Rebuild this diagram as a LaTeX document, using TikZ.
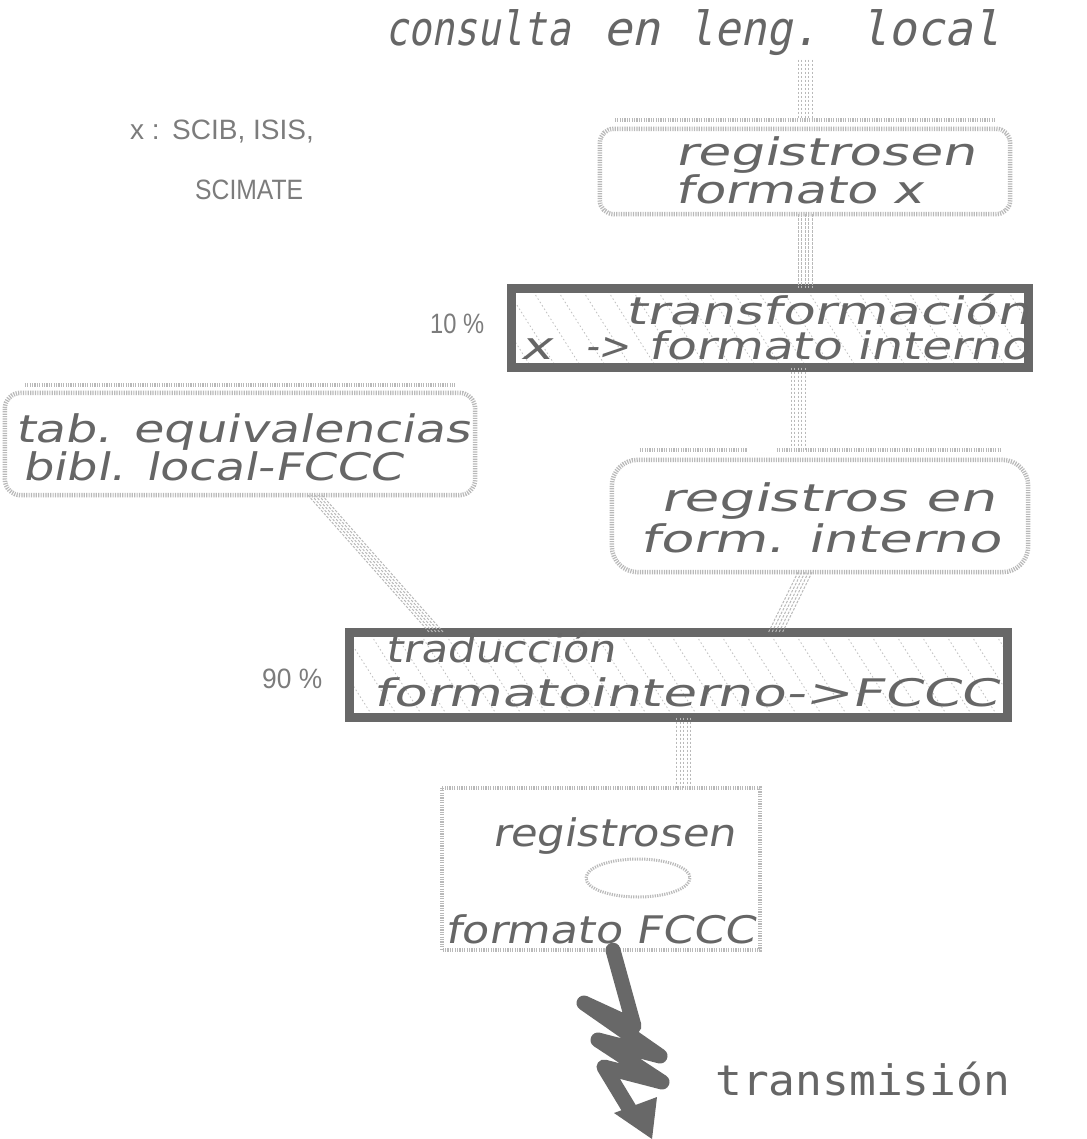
\documentclass[tikz,border=0pt]{standalone}
\usepackage{fontspec}
\usepackage{graphicx}
\usetikzlibrary{calc}
\setmainfont{DejaVu Sans}
\newfontface\slantfont[FakeStretch=1.4,FakeSlant=0.22]{DejaVu Sans}
\newfontface\titlefnt[FakeSlant=0.22]{DejaVu Sans Mono}
\newfontface\lblfnt{Liberation Sans}
\newfontface\monofnt{DejaVu Sans Mono}
\definecolor{ink}{HTML}{666666}
\definecolor{frame}{HTML}{686868}
\definecolor{lblc}{HTML}{7C7C7C}
\newlength\fitlen
\newcommand\fitto[2]{\settowidth\fitlen{#2}\pgfmathsetmacro\fitfac{#1/\fitlen}\scalebox{\fitfac}[1]{#2}}
\newcommand\band[2]{\foreach \d in {-7,-3.5,0,3.5,7} {\draw[conn] ($(#1)+(\d,0)$) -- ($(#2)+(\d,0)$);}}
\tikzset{
  btxt/.style={anchor=base west, inner sep=0, text=ink, font=\slantfont\fontsize{38}{40}\selectfont},
  ttl/.style={anchor=base west, inner sep=0, text=ink, font=\titlefnt\fontsize{47}{50}\selectfont},
  lbl/.style={anchor=base west, inner sep=0, text=lblc, font=\lblfnt\fontsize{28}{30}\selectfont},
  mono/.style={anchor=base west, inner sep=0, text=ink, font=\monofnt\fontsize{42}{44}\selectfont},
  bx/.style={rectangle, inner sep=0, draw=none},
  dotb/.style={draw=gray!55, line width=4.5pt, dash pattern=on 1.2pt off 1.2pt},
  thickb/.style={draw=frame, line width=9pt},
  hatch/.style={draw=gray!50, line width=0.8pt, dash pattern=on 1.5pt off 2.5pt},
  conn/.style={draw=gray!55, line width=1pt, dash pattern=on 2.5pt off 1.5pt},
  bolt/.style={draw=frame, line width=15pt, line join=round, line cap=round},
}
\begin{document}
\begin{tikzpicture}[x=1pt,y=-1pt]
\fill[white] (0,0) rectangle (1086,1139);
\useasboundingbox (0,0) rectangle (1086,1139);

% title
\node[ttl] (tw1) at (385,46) {\fitto{185}{consulta}};
\node[ttl] (tw2) at (603,46) {\fitto{57}{en}};
\node[ttl] (tw3) at (688,46) {\fitto{130}{leng.}};
\node[ttl] (tw4) at (860,46) {\fitto{140}{local}};
\coordinate (c0) at (805,60);

% legend
\node[lbl] (lx) at (130,140) {x :};
\node[lbl] (l1) at (172,140) {SCIB, ISIS,};
\node[lbl] (l2) at (195,200) {\fitto{108}{SCIMATE}};

% box 1
\node[bx, minimum width=410, minimum height=94] (b1) at (805,167) {};
\draw[dotb, rounded corners=14] ($(b1.north west)+(0,9)$) -- (b1.south west) -- (b1.south east) -- ($(b1.north east)+(0,9)$) -- cycle;
\draw[dotb] ($(b1.north west)+(15,0)$) -- ($(b1.north east)+(-15,0)$);
\node[btxt] (b1t1) at (675,166) {\fitto{300}{registrosen}};
\node[btxt] (b1t2) at (675,204) {\fitto{248}{formato x}};

% box 2
\node[bx, minimum width=517, minimum height=79] (b2) at (770,328) {};
\begin{scope}
  \clip (b2.north west) rectangle (b2.south east);
  \foreach \i in {-80,-55,...,540} \draw[hatch] ($(b2.north west)+(\i,0)$) -- ++(50,79);
\end{scope}
\draw[thickb] (b2.north west) rectangle (b2.south east);
\node[btxt] (b2t1) at (625,324) {\fitto{405}{transformación}};
\node[btxt] (b2x) at (520,359) {x};
\node[btxt] (b2a) at (585,359) {\fitto{45}{->}};
\node[btxt] (b2t2) at (648,359) {\fitto{382}{formato interno}};
\node[lbl] (p10) at (430,333) {\fitto{54}{10 \%}};

% tab box
\node[bx, minimum width=470, minimum height=110] (tb) at (240,440) {};
\draw[dotb, rounded corners=16] ($(tb.north west)+(0,8)$) -- (tb.south west) -- (tb.south east) -- ($(tb.north east)+(0,8)$) -- cycle;
\draw[dotb] ($(tb.north west)+(20,0)$) -- ($(tb.north east)+(-20,0)$);
\node[btxt] (tbt1) at (15,442) {\fitto{455}{tab. equivalencias}};
\node[btxt] (tbt2) at (22,480) {\fitto{380}{bibl. local-FCCC}};

% box 3
\node[bx, minimum width=416, minimum height=122] (b3) at (820,511) {};
\draw[dotb, rounded corners=26] ($(b3.north west)+(0,10)$) -- (b3.south west) -- (b3.south east) -- ($(b3.north east)+(0,10)$) -- cycle;
\draw[dotb] ($(b3.north west)+(28,0)$) -- ($(b3.north west)+(135,0)$);
\draw[dotb] ($(b3.north west)+(165,0)$) -- ($(b3.north east)+(-28,0)$);
\node[btxt] (b3t1) at (660,511) {\fitto{335}{registros en}};
\node[btxt] (b3t2) at (640,552) {\fitto{360}{form. interno}};

% box 4
\node[bx, minimum width=658, minimum height=85] (b4) at (678.5,675) {};
\begin{scope}
  \clip (b4.north west) rectangle (b4.south east);
  \foreach \i in {-80,-55,...,680} \draw[hatch] ($(b4.north west)+(\i,0)$) -- ++(54,85);
\end{scope}
\draw[thickb] (b4.north west) rectangle (b4.south east);
\node[btxt] (b4t1) at (385,662) {\fitto{230}{traducción}};
\node[btxt] (b4t2) at (373,706) {\fitto{625}{formatointerno->FCCC}};
\node[lbl] (p90) at (262,688) {\fitto{60}{90 \%}};

% box 5
\node[bx, minimum width=318, minimum height=162] (b5) at (601,869) {};
\draw[dotb] (b5.north west) rectangle (b5.south east);
\node[btxt] (b5t1) at (492,846) {\fitto{243}{registrosen}};
\node[btxt] (b5t2) at (445,943) {\fitto{310}{formato FCCC}};
\draw[dotb, line width=3pt] (638,878) ellipse [x radius=52, y radius=19];

% connectors
\band{c0}{c0 |- b1.north}
\band{b1.south}{b1.south |- b2.north}
\coordinate (b2o) at ($(b2.south)+(28,0)$);
\band{b2o}{b2o |- b3.north}
\coordinate (tbo) at ($(tb.south)+(75,0)$);
\coordinate (b4l) at ($(b4.north west)+(87,0)$);
\band{tbo}{b4l}
\coordinate (b3o) at ($(b3.south)+(-15,0)$);
\coordinate (b4r) at ($(b4.north)+(97,0)$);
\band{b3o}{b4r}
\coordinate (b4o) at ($(b4.south)+(5,0)$);
\band{b4o}{b4o |- b5.north}

% lightning
\coordinate (z0) at ($(b5.south)+(12,0)$);
\draw[bolt] (z0) -- (634,1026) -- (584,1003) -- (660,1056) -- (598,1040) -- (662,1082) -- (604,1067) -- (630,1110);
\fill[frame] (614,1113) -- (657,1097) -- (652,1139) -- cycle;
\node[mono] (tr) at (715,1095) {\fitto{295}{transmisión}};
\end{tikzpicture}
\end{document}
